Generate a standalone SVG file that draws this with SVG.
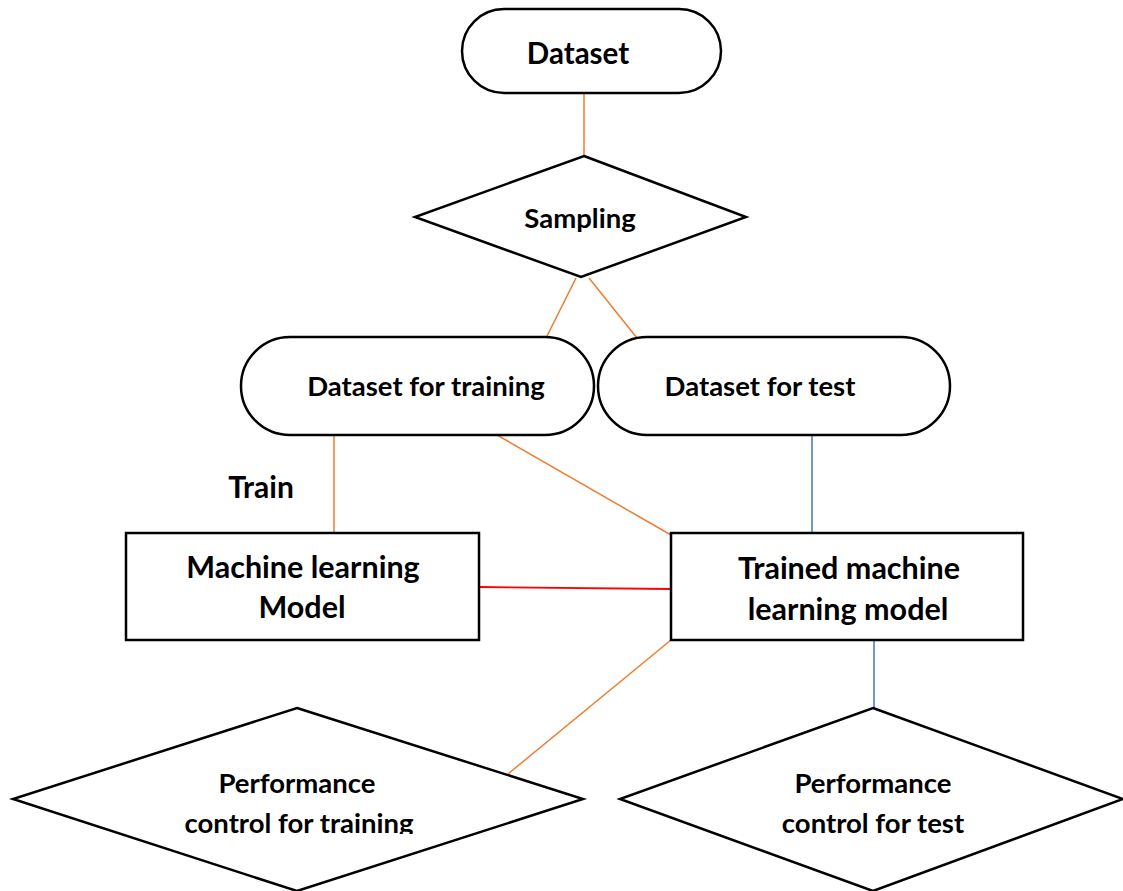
<svg xmlns="http://www.w3.org/2000/svg" width="1123" height="891" viewBox="0 0 1123 891">
<style>
.shape{fill:#fff;stroke:#000;stroke-width:2.5}
.t{font-family:Lato,"Open Sans","Liberation Sans",sans-serif;font-weight:bold;fill:#000;text-anchor:middle}
.o{stroke:#ED7D31;stroke-width:1.5;fill:none}
.b{stroke:#4472C4;stroke-width:1.5;fill:none}
.r{stroke:#FF0000;stroke-width:1.8;fill:none}
</style>
<defs>
<clipPath id="clipTrain"><rect x="0" y="700" width="600" height="134"/></clipPath>
</defs>
<rect width="1123" height="891" fill="#fff"/>
<g id="connectors">
<line class="o" x1="584" y1="93" x2="584" y2="156"/>
<line class="o" x1="576" y1="278" x2="546" y2="338"/>
<line class="o" x1="589" y1="278" x2="637" y2="338"/>
<line class="o" x1="334" y1="435" x2="334" y2="533"/>
<line class="o" x1="497" y1="435" x2="671" y2="535"/>
<line class="b" x1="812" y1="435" x2="812" y2="533"/>
<line class="r" x1="479" y1="587" x2="671" y2="589"/>
<line class="o" x1="671" y1="640" x2="508" y2="774"/>
<line class="b" x1="874" y1="640" x2="874" y2="708"/>
</g>
<g id="dataset">
<rect class="shape" x="462" y="9" width="259" height="84" rx="42" ry="42"/>
<text class="t" x="578" y="64" font-size="29.5">Dataset</text>
</g>
<g id="sampling">
<polygon class="shape" points="584,156 746,217 581,277 415,217"/>
<text class="t" x="580" y="228" font-size="27.5">Sampling</text>
</g>
<g id="train-set">
<rect class="shape" x="241" y="337" width="353" height="98" rx="49" ry="49"/>
<text class="t" x="426" y="396" font-size="27.5">Dataset for training</text>
</g>
<g id="test-set">
<rect class="shape" x="598" y="337" width="352" height="98" rx="49" ry="49"/>
<text class="t" x="760" y="396" font-size="27.5">Dataset for test</text>
</g>
<g id="train-label">
<text class="t" x="261" y="498" font-size="30">Train</text>
</g>
<g id="ml-model">
<rect class="shape" x="126" y="533" width="353" height="107"/>
<text class="t" x="303" y="578" font-size="30.5">Machine learning</text>
<text class="t" x="302" y="618" font-size="30.5">Model</text>
</g>
<g id="trained-model">
<rect class="shape" x="671" y="533" width="352" height="107"/>
<text class="t" x="849" y="579" font-size="30.5">Trained machine</text>
<text class="t" x="848" y="620" font-size="30.5">learning model</text>
</g>
<g id="perf-train">
<polygon class="shape" points="297,708 583,799 297,891 13,799"/>
<text class="t" x="297" y="793" font-size="27.5">Performance</text>
<text class="t" x="299" y="833" font-size="27.5" clip-path="url(#clipTrain)">control for training</text>
</g>
<g id="perf-test">
<polygon class="shape" points="873,708 1123,799 873,891 620,799"/>
<text class="t" x="873" y="793" font-size="27.5">Performance</text>
<text class="t" x="873" y="833" font-size="27.5">control for test</text>
</g>
</svg>
